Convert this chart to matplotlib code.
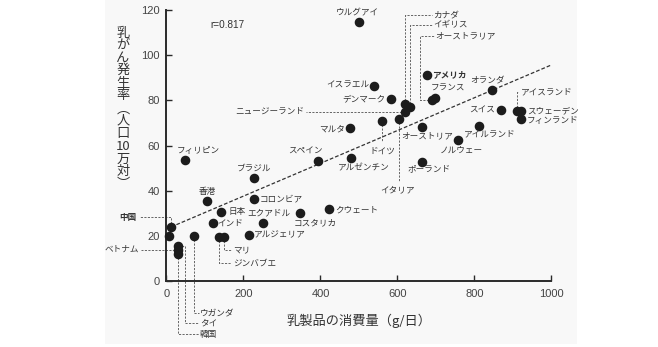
import matplotlib
matplotlib.use("Agg")
import matplotlib.pyplot as plt
from matplotlib.patches import Rectangle

plt.rcParams['font.family'] = ['Noto Sans CJK JP', 'DejaVu Sans']

# 乳製品の消費量 (g/日) と乳がん発生率 (人口10万対)
countries = ['ウルグアイ', 'カナダ', 'イギリス', 'オーストラリア', 'アメリカ',
             'イスラエル', 'デンマーク', 'フランス', 'ニュージーランド', 'マルタ',
             'ドイツ', 'イタリア', 'オーストリア', 'オランダ', 'スイス',
             'アイスランド', 'スウェーデン', 'フィンランド', 'アイルランド', 'ノルウェー',
             'スペイン', 'アルゼンチン', 'ポーランド', 'フィリピン', 'ブラジル',
             '香港', 'コロンビア', '日本', 'インド', 'エクアドル',
             'コスタリカ', 'クウェート', 'アルジェリア', 'マリ', 'ジンバブエ',
             'ウガンダ', '中国', 'ベトナム', 'タイ', '韓国', '']
dairy = [501, 620, 633, 691, 676,
         539, 583, 698, 619, 477,
         560, 604, 665, 845, 868,
         910, 922, 921, 812, 758,
         393, 479, 665, 48, 227,
         104, 227, 142, 121, 251,
         347, 422, 214, 149, 136,
         72, 12, 29, 29, 29, 7]
incidence = [114.6, 78.5, 77.0, 80.2, 91.4,
             86.4, 80.6, 81.2, 74.8, 67.8,
             70.7, 71.7, 68.3, 84.6, 75.7,
             75.3, 75.3, 71.7, 68.8, 62.3,
             53.0, 54.3, 52.6, 53.6, 45.7,
             35.6, 36.5, 30.4, 25.8, 25.5,
             30.0, 31.7, 20.2, 19.3, 19.3,
             20.0, 24.0, 13.8, 15.4, 12.0, 20.0]

trend_intercept = 23.1
trend_slope = 0.0726
trend_range = [12, 1000]
r_value = 0.817

# label placement: text x, text y, alignment, leader (first direction, stops)
labels = {
    'ウルグアイ': (497, 118.7, 'center', None),
    'カナダ': (692, 117.8, 'left', ('v', [117.8, 689])),
    'イギリス': (694, 113.4, 'left', ('v', [113.4, 691])),
    'オーストラリア': (699, 108.5, 'left', ('h', [658, 108.5, 696])),
    'アメリカ': (690, 91.2, 'left', None),
    'イスラエル': (528, 86.6, 'right', None),
    'デンマーク': (570, 80.6, 'right', None),
    'フランス': (731, 85.2, 'center', None),
    'ニュージーランド': (358, 75.0, 'right', ('h', [362])),
    'マルタ': (463, 67.5, 'right', None),
    'ドイツ': (561, 57.7, 'center', ('v', [61.5])),
    'イタリア': (601, 40.3, 'center', ('v', [43.8])),
    'オーストリア': (676, 64.2, 'center', None),
    'オランダ': (835, 89.2, 'center', None),
    'スイス': (853, 75.6, 'right', None),
    'アイスランド': (920, 83.8, 'left', ('v', [83.8, 917])),
    'スウェーデン': (936, 75.4, 'left', None),
    'フィンランド': (936, 71.2, 'left', None),
    'アイルランド': (840, 65.1, 'center', None),
    'ノルウェー': (767, 58.0, 'center', None),
    'スペイン': (360, 57.5, 'center', None),
    'アルゼンチン': (513, 50.0, 'center', None),
    'ポーランド': (682, 49.6, 'center', None),
    'フィリピン': (82, 57.9, 'center', None),
    'ブラジル': (227, 50.2, 'center', None),
    '香港': (107, 39.7, 'center', None),
    'コロンビア': (241, 36.5, 'left', None),
    '日本': (160, 30.6, 'left', None),
    'インド': (133, 25.8, 'left', None),
    'エクアドル': (266, 30.2, 'center', None),
    'コスタリカ': (386, 25.7, 'center', None),
    'クウェート': (438, 31.6, 'left', None),
    'アルジェリア': (227, 20.6, 'left', None),
    'マリ': (173, 13.7, 'left', ('v', [13.7, 168])),
    'ジンバブエ': (173, 7.8, 'left', ('v', [7.8, 168])),
    'ウガンダ': (87, -14.3, 'left', ('v', [-14.3, 85])),
    'タイ': (87, -18.7, 'left', ('h', [48, -18.7, 85])),
    '韓国': (87, -23.6, 'left', ('v', [-23.6, 85])),
    '中国': (-77, 28.2, 'right', ('v', [28.2, -70])),
    'ベトナム': (-71, 14.0, 'right', ('h', [-66])),
}
bold_labels = {'アメリカ', '中国'}


def leader_path(x0, y0, first, stops):
    xs, ys = [x0], [y0]
    horiz = first == 'h'
    for s in stops:
        if horiz:
            xs.append(s)
            ys.append(ys[-1])
        else:
            xs.append(xs[-1])
            ys.append(s)
        horiz = not horiz
    return xs, ys


fig = plt.figure(figsize=(6.58, 3.47), dpi=100)
fig.patches.append(Rectangle((0.16, 0.01), 0.717, 0.99, transform=fig.transFigure,
                             facecolor='#f8f8f8', edgecolor='none', zorder=-10))
ax = fig.add_axes([0.253, 0.190, 0.585, 0.781])
ax.set_facecolor('none')

# regression line
tx = trend_range
ty = [trend_intercept + trend_slope * v for v in tx]
ax.plot(tx, ty, color='#333333', lw=0.9, ls=(0, (3, 1.6)), zorder=2)

# leader lines
for name, x, y in zip(countries, dairy, incidence):
    if name not in labels or labels[name][3] is None:
        continue
    first, stops = labels[name][3]
    lx, ly = leader_path(x, y, first, stops)
    ax.plot(lx, ly, color='#666666', lw=0.7, ls=(0, (2.2, 1.4)),
            clip_on=False, zorder=1)

ax.plot(dairy, incidence, 'o', color='#1c1c1c', markersize=5.9,
        clip_on=False, zorder=4)

for name in countries:
    if name not in labels:
        continue
    lx, ly, ha, _ = labels[name]
    ax.text(lx, ly, name, ha=ha, va='center', fontsize=6.2, color='#333333',
            fontweight='bold' if name in bold_labels else 'normal',
            clip_on=False, zorder=5)

ax.text(113, 113.4, f'r={r_value}', fontsize=7.2, color='#333333',
        family=['Liberation Sans Narrow', 'Liberation Sans'], va='center')

ax.set_xlim(0, 1000)
ax.set_ylim(0, 120)
ax.set_xticks(range(0, 1001, 200))
ax.set_yticks(range(0, 121, 20))
for side in ('top', 'right'):
    ax.spines[side].set_visible(False)
for side in ('left', 'bottom'):
    ax.spines[side].set_linewidth(1.4)
    ax.spines[side].set_color('#2a2a2a')
ax.tick_params(direction='in', length=4, width=1, color='#2a2a2a',
               labelsize=8, labelcolor='#444444')
ax.tick_params(axis='x', pad=6)
ax.tick_params(axis='y', pad=5)
for lab in ax.get_xticklabels() + ax.get_yticklabels():
    lab.set_family(['Liberation Sans Narrow', 'Liberation Sans'])

ax.set_xlabel('乳製品の消費量（g/日）', fontsize=9.5, color='#333333', labelpad=10)

# vertical y-axis title, one glyph per row
ylabel_parts = ['乳', 'が', 'ん', '発', '生', '率', '︵', '人', '口', '10', '万', '対', '︶']
top_px, step_px = 33, 12.6
for i, ch in enumerate(ylabel_parts):
    fig.text(123 / 658, 1 - (top_px + i * step_px) / 347, ch, ha='center',
             va='center', fontsize=9.5, color='#333333')

fig.savefig('out.png', dpi=100)
